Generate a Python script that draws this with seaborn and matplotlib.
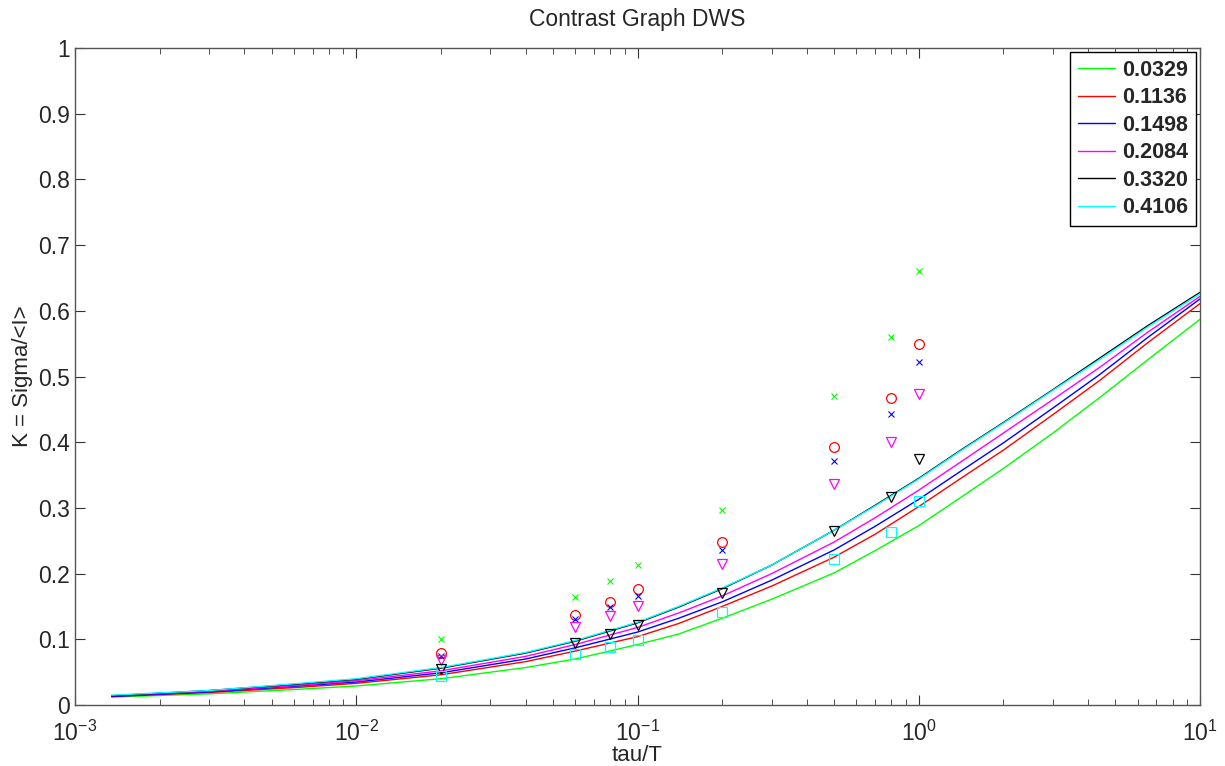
import numpy as np
import pandas as pd
import seaborn as sns
import matplotlib
matplotlib.use("Agg")
import matplotlib.pyplot as plt
from matplotlib.lines import Line2D

# legend entries and colours
labels = ["0.0329", "0.1136", "0.1498", "0.2084", "0.3320", "0.4106"]
colors = ["#00ff00", "#ff0000", "#0000ff", "#ff00ff", "#000000", "#00ffff"]
markers = ["x", "o", "x", "v", "v", "s"]

# model curves
tau_fit = [0.00135, 0.003, 0.0063, 0.01, 0.02, 0.04, 0.06, 0.1, 0.14, 0.2, 0.3,
           0.5, 0.7, 1.0, 1.4, 2.0, 3.0, 4.4, 6.5, 10.0]
k_fit_0329 = [0.012, 0.017, 0.024, 0.029, 0.040, 0.057, 0.070, 0.092, 0.108, 0.132, 0.161,
              0.201, 0.235, 0.273, 0.315, 0.360, 0.414, 0.468, 0.525, 0.587]
k_fit_1136 = [0.013, 0.019, 0.027, 0.033, 0.046, 0.066, 0.082, 0.104, 0.124, 0.150, 0.181,
              0.225, 0.260, 0.302, 0.344, 0.388, 0.442, 0.494, 0.551, 0.611]
k_fit_1498 = [0.013, 0.020, 0.029, 0.035, 0.049, 0.070, 0.087, 0.111, 0.132, 0.157, 0.190,
              0.236, 0.272, 0.313, 0.355, 0.399, 0.452, 0.503, 0.559, 0.618]
k_fit_2084 = [0.014, 0.021, 0.030, 0.037, 0.052, 0.074, 0.092, 0.118, 0.140, 0.166, 0.200,
              0.248, 0.285, 0.327, 0.369, 0.414, 0.465, 0.514, 0.567, 0.622]
k_fit_3320 = [0.014, 0.022, 0.032, 0.039, 0.056, 0.079, 0.097, 0.125, 0.149, 0.177, 0.213,
              0.266, 0.304, 0.345, 0.387, 0.430, 0.480, 0.528, 0.577, 0.628]
k_fit_4106 = [0.015, 0.022, 0.033, 0.040, 0.057, 0.080, 0.098, 0.126, 0.150, 0.178, 0.213,
              0.266, 0.303, 0.344, 0.386, 0.429, 0.479, 0.526, 0.575, 0.626]

# measured points
tau_meas = [0.02, 0.06, 0.08, 0.1, 0.2, 0.5, 0.8, 1.0]
k_meas_0329 = [0.100, 0.164, 0.189, 0.213, 0.297, 0.471, 0.560, 0.661]
k_meas_1136 = [0.079, 0.137, 0.157, 0.177, 0.248, 0.392, 0.468, 0.550]
k_meas_1498 = [0.075, 0.131, 0.149, 0.166, 0.236, 0.371, 0.443, 0.522]
k_meas_2084 = [0.068, 0.119, 0.135, 0.151, 0.215, 0.336, 0.401, 0.473]
k_meas_3320 = [0.055, 0.094, 0.108, 0.122, 0.170, 0.265, 0.317, 0.374]
k_meas_4106 = [0.044, 0.078, 0.088, 0.099, 0.141, 0.222, 0.264, 0.311]

fits = [k_fit_0329, k_fit_1136, k_fit_1498, k_fit_2084, k_fit_3320, k_fit_4106]
meas = [k_meas_0329, k_meas_1136, k_meas_1498, k_meas_2084, k_meas_3320, k_meas_4106]

df_fit = pd.concat([pd.DataFrame({"tau": tau_fit, "K": k, "c": lab})
                    for k, lab in zip(fits, labels)], ignore_index=True)

sns.set_style("ticks")
plt.rcParams["font.family"] = ["Liberation Sans", "DejaVu Sans"]
plt.rcParams["mathtext.fontset"] = "custom"
plt.rcParams["mathtext.rm"] = "Liberation Sans"
plt.rcParams["mathtext.it"] = "Liberation Sans"

fig = plt.figure(figsize=(12.25, 7.66), dpi=100)
ax = fig.add_axes([75 / 1225, 61 / 766, 1125 / 1225, 657 / 766])

sns.lineplot(data=df_fit, x="tau", y="K", hue="c", hue_order=labels,
             palette=dict(zip(labels, colors)), linewidth=1.0, legend=False, ax=ax)

for k, col, m in zip(meas, colors, markers):
    if m == "x":
        ax.plot(tau_meas, k, linestyle="none", marker=m, color=col, ms=4, mew=0.8)
    else:
        ax.plot(tau_meas, k, linestyle="none", marker=m, mfc="none", mec=col,
                ms=7 if m != "s" else 6.5, mew=0.9)

ax.set_xscale("log")
ax.set_xlim(1e-3, 10)
ax.set_ylim(0, 1)
ax.set_yticks(np.arange(0, 1.01, 0.1))
ax.set_yticklabels(["0", "0.1", "0.2", "0.3", "0.4", "0.5", "0.6", "0.7", "0.8", "0.9", "1"])

for s in ax.spines.values():
    s.set_color("#555555")
    s.set_linewidth(1.0)
ax.tick_params(which="both", direction="in", top=True, right=True, color="#333333",
               labelsize=16.5)
ax.tick_params(which="major", length=7)
ax.tick_params(which="minor", length=4)
ax.tick_params(axis="x", pad=11)

ax.set_xlabel("tau/T", fontsize=16, labelpad=0)
ax.set_ylabel("K = Sigma/<I>", fontsize=16, labelpad=4)
ax.set_title("Contrast Graph DWS", fontsize=16.5, pad=16)

handles = [Line2D([], [], color=c, lw=1.0) for c in colors]
leg = ax.legend(handles, labels, loc="upper right", frameon=True, fancybox=False,
                edgecolor="black", framealpha=1, borderaxespad=0.2,
                prop={"weight": "bold", "size": 15.5}, handlelength=1.7,
                handletextpad=0.35, labelspacing=0.3, borderpad=0.35)
leg.get_frame().set_linewidth(1.0)

fig.savefig("out.png", dpi=100, facecolor="white")
